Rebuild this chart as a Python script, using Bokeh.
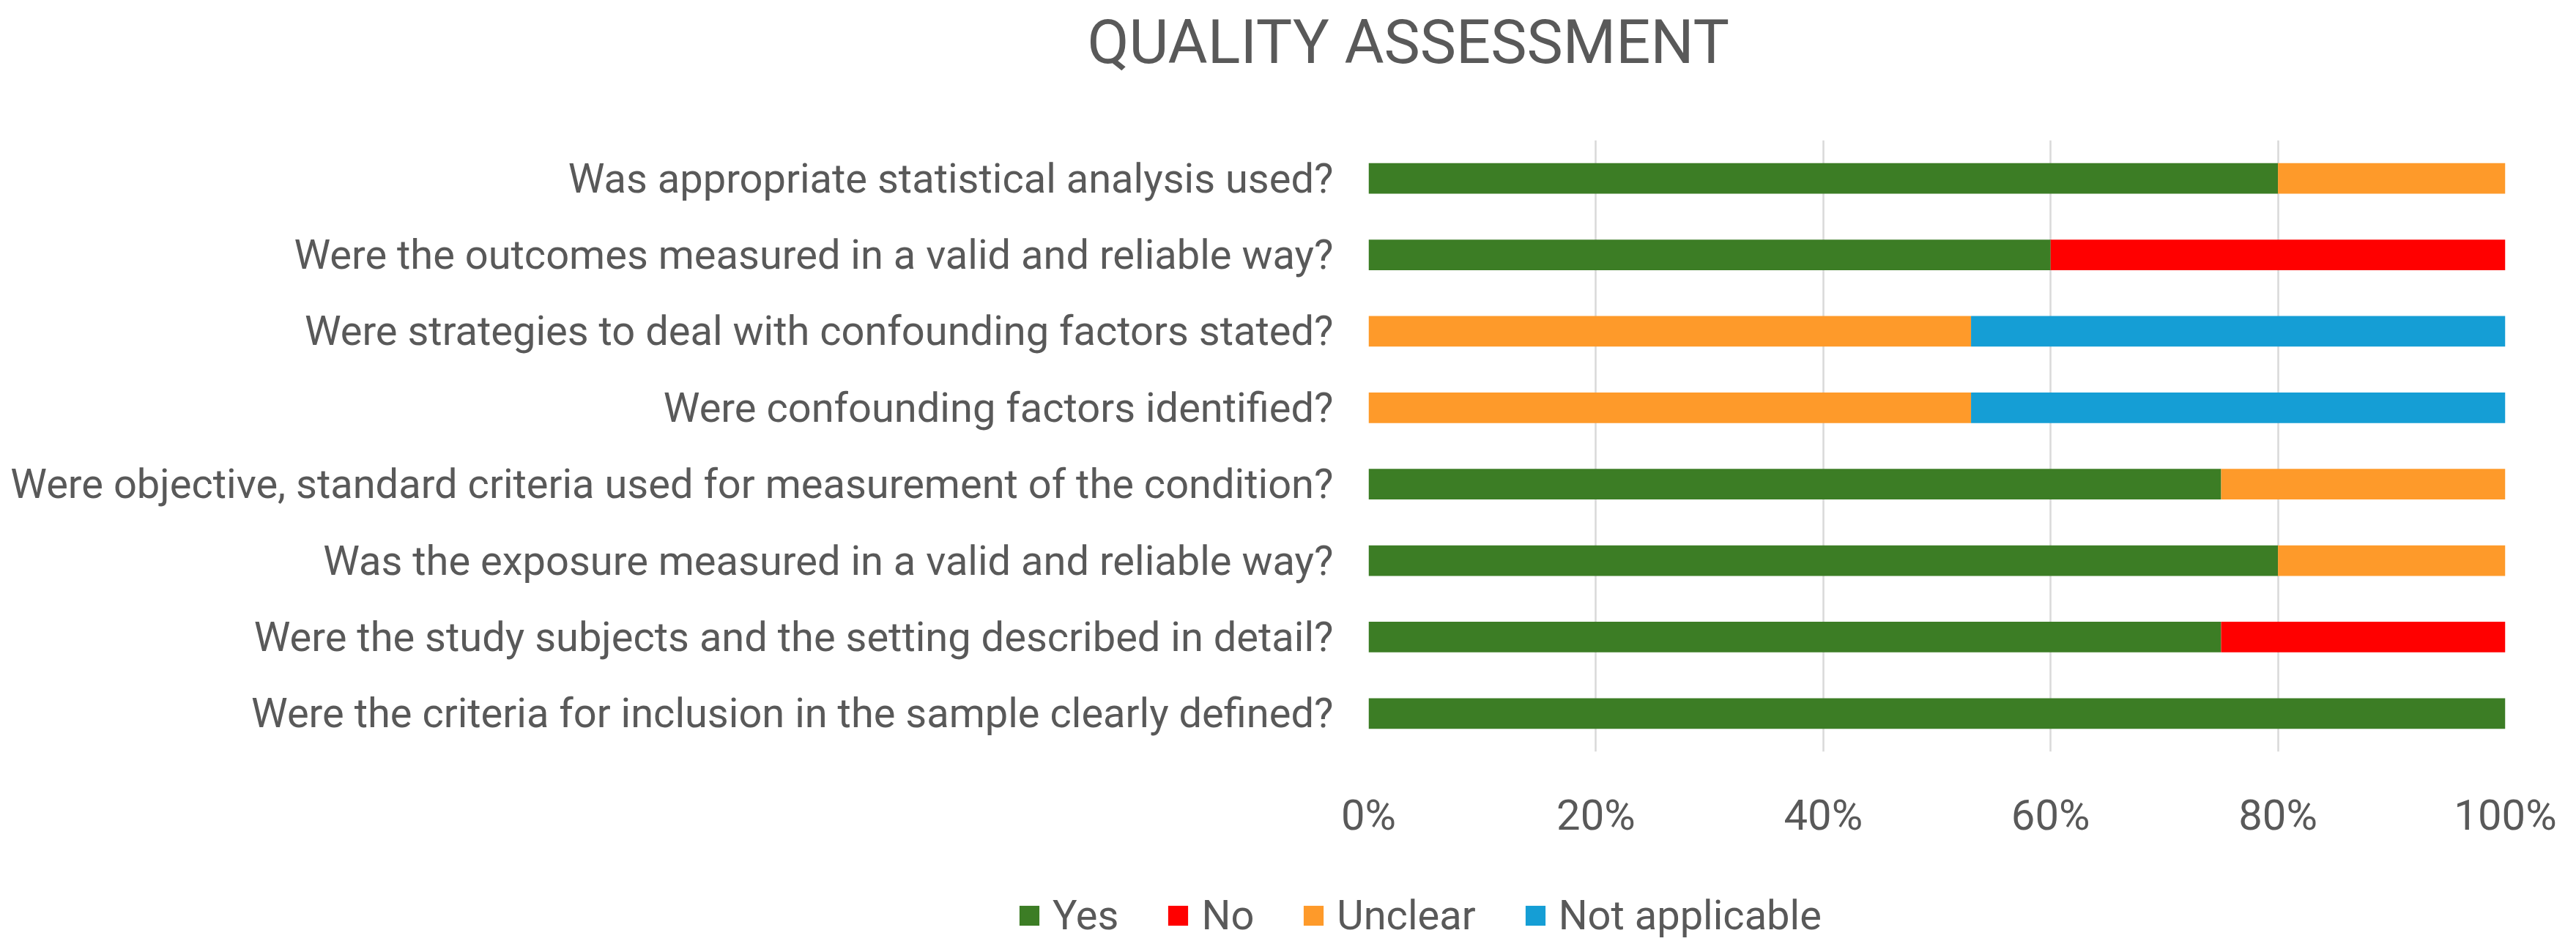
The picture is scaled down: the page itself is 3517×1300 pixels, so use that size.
from bokeh.plotting import figure
from bokeh.layouts import column, row
from bokeh.models import (FactorRange, Range1d, FixedTicker, Legend, LegendItem,
                          ColumnDataSource, Label)
from bokeh.embed import file_html
from bokeh.resources import INLINE

FONT = "Roboto"
TEXT = "#595959"

# ---- data (top to bottom as shown) ----
questions = [
    "Was appropriate statistical analysis used?",
    "Were the outcomes measured in a valid and reliable way?",
    "Were strategies to deal with confounding factors stated?",
    "Were confounding factors identified?",
    "Were objective, standard criteria used for measurement of the condition?",
    "Was the exposure measured in a valid and reliable way?",
    "Were the study subjects and the setting described in detail?",
    "Were the criteria for inclusion in the sample clearly defined?",
]
yes = [80, 60, 0, 0, 75, 80, 75, 100]
no = [0, 40, 0, 0, 0, 0, 25, 0]
unclear = [20, 0, 53, 53, 25, 20, 0, 0]
not_applicable = [0, 0, 47, 47, 0, 0, 0, 0]
series_names = ["Yes", "No", "Unclear", "Not applicable"]
series_colors = ["#3C7D25", "#FF0000", "#FE9A2A", "#159ED5"]
x_ticks = [0, 20, 40, 60, 80, 100]
x_tick_labels = ["0%", "20%", "40%", "60%", "80%", "100%"]
title_text = "QUALITY ASSESSMENT"

W = 3501
TITLE_H, MAIN_H, LEG_H = 191, 969, 124


def no_align(fig):
    if "frame_align" in fig.properties():
        fig.frame_align = False


def blank(fig):
    fig.outline_line_color = None
    fig.axis.visible = False
    fig.grid.visible = False
    fig.background_fill_color = "white"
    fig.border_fill_color = "white"
    no_align(fig)


# ---- title strip ----
tf = figure(width=W, height=TITLE_H, output_backend="svg", toolbar_location=None,
            x_range=Range1d(0, W), y_range=Range1d(0, TITLE_H), min_border=0)
blank(tf)
tf.add_layout(Label(x=1484, y=134, text=title_text, text_align="left",
                    text_baseline="alphabetic", text_font=FONT,
                    text_font_size="83px", text_color=TEXT))

# ---- main chart ----
source = ColumnDataSource(dict(
    question=questions,
    **{"Yes": yes, "No": no, "Unclear": unclear, "Not applicable": not_applicable}
))

p = figure(width=W, height=MAIN_H, output_backend="svg", toolbar_location=None,
           y_range=FactorRange(factors=list(reversed(questions))),
           x_range=Range1d(0, 100),
           min_border_left=1868, min_border_right=81,
           min_border_top=0, min_border_bottom=134)
p.outline_line_color = None
p.background_fill_color = "white"
p.border_fill_color = "white"
no_align(p)

renderers = p.hbar_stack(series_names, y="question", height=0.4,
                         color=series_colors, line_color=None, source=source)

p.ygrid.grid_line_color = None
p.xgrid.ticker = FixedTicker(ticks=x_ticks)
p.xgrid.grid_line_color = "#D9D9D9"
p.xgrid.grid_line_width = 2.5
p.xgrid.level = "underlay"

xa = p.xaxis[0]
xa.ticker = FixedTicker(ticks=x_ticks)
xa.major_label_overrides = {t: l for t, l in zip(x_ticks, x_tick_labels)}
xa.axis_line_color = None
xa.major_tick_line_color = None
xa.minor_tick_line_color = None
xa.major_tick_out = 0
xa.major_label_standoff = 52
xa.major_label_text_font = FONT
xa.major_label_text_font_size = "58px"
xa.major_label_text_color = TEXT

ya = p.yaxis[0]
ya.axis_line_color = None
ya.major_tick_line_color = None
ya.major_tick_out = 0
ya.major_label_standoff = 48
ya.major_label_text_font = FONT
ya.major_label_text_font_size = "56px"
ya.major_label_text_color = TEXT

# ---- legend strip (swatch renderers sit outside the visible range) ----
lf = figure(width=W, height=LEG_H, output_backend="svg", toolbar_location=None,
            x_range=Range1d(0, W), y_range=Range1d(0, LEG_H), min_border=0)
blank(lf)
swatches = [lf.hbar(y=[-1000], left=[0], right=[1], height=1,
                    fill_color=c, line_color=None)
            for c in series_colors]
legend = Legend(items=[LegendItem(label=n, renderers=[r]) for n, r in zip(series_names, swatches)],
                orientation="horizontal", location=(1388, 1),
                glyph_width=34, glyph_height=34, label_standoff=15, spacing=64,
                padding=0, margin=0, border_line_color=None, background_fill_alpha=0,
                label_text_font=FONT, label_text_font_size="56px", label_text_color=TEXT)
lf.add_layout(legend, "center")

layout = column(row(tf), p, row(lf), spacing=0)
open("out.html", "w").write(file_html(layout, INLINE))
